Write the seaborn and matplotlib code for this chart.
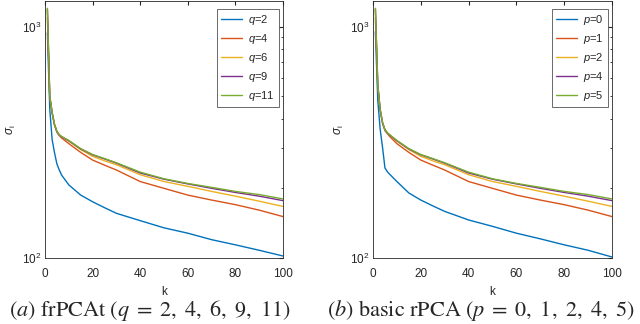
import matplotlib
matplotlib.use("Agg")
import matplotlib.pyplot as plt
import pandas as pd
import seaborn as sns

# Sampled component index k
k_vals = [1, 2, 3, 4, 5, 6, 7, 10, 15, 20, 25, 30, 40, 50, 60, 70, 80, 90, 100]

# (a) frPCAt, singular values per q
frpcat_q2 = [940, 440, 325, 285, 255, 240, 228, 207, 187, 175, 165, 156, 145, 135, 128, 120, 114, 108, 102]
frpcat_q4 = [1090, 495, 422, 375, 350, 338, 330, 312, 286, 265, 252, 240, 214, 200, 187, 178, 170, 161, 151]
frpcat_q6 = [1190, 500, 425, 377, 352, 340, 334, 320, 294, 275, 263, 253, 229, 214, 204, 194, 185, 176, 167]
frpcat_q9 = [1190, 500, 425, 377, 352, 340, 334, 321, 296, 279, 268, 257, 233, 219, 209, 200, 192, 185, 177]
frpcat_q11 = [1200, 500, 425, 378, 353, 341, 335, 322, 297, 280, 269, 258, 235, 220, 210, 202, 194, 188, 180]

# (b) basic rPCA, singular values per p
rpca_p0 = [950, 480, 360, 300, 245, 236, 230, 214, 191, 178, 168, 159, 146, 137, 128, 121, 114, 108, 101]
rpca_p1 = [1090, 555, 435, 382, 355, 345, 335, 312, 286, 265, 252, 240, 214, 200, 187, 178, 170, 161, 151]
rpca_p2 = [1190, 560, 437, 384, 358, 347, 340, 320, 294, 275, 263, 253, 229, 214, 204, 194, 185, 176, 167]
rpca_p4 = [1190, 560, 437, 384, 358, 347, 340, 321, 296, 279, 268, 257, 233, 219, 209, 200, 192, 185, 177]
rpca_p5 = [1200, 560, 437, 385, 359, 348, 341, 322, 297, 280, 269, 258, 235, 220, 210, 202, 194, 188, 180]

frpcat_labels = ["2", "4", "6", "9", "11"]
rpca_labels = ["0", "1", "2", "4", "5"]

colors = ["#0072BD", "#D95319", "#EDB120", "#7E2F8E", "#77AC30"]


def draw_panel(ax, series, labels, var):
    """Draw one log-scale singular value panel"""
    for values, lab, color in zip(series, labels, colors):
        df = pd.DataFrame({"k": k_vals, "sigma": values})
        sns.lineplot(data=df, x="k", y="sigma", ax=ax, color=color,
                     linewidth=1.0, label=f"${var}$=" + lab)
    ax.set_yscale("log")
    ax.set_xlim(0, 100)
    ax.set_ylim(100, 1290)
    ax.set_xticks([0, 20, 40, 60, 80, 100])
    ax.tick_params(which="both", direction="in", top=True, right=True,
                   labelsize=8.5, colors="#262626")
    ax.tick_params(which="major", length=3)
    ax.tick_params(which="minor", length=1.8)
    ax.tick_params(axis="x", pad=7)
    ax.tick_params(axis="y", pad=2.5)
    ax.set_xlabel("k", fontsize=8.5, labelpad=4.5)
    ax.set_ylabel(r"$\sigma_{\mathrm{i}}$", fontsize=8.5, labelpad=3)
    for s in ax.spines.values():
        s.set_color("#262626")
        s.set_linewidth(0.6)
    leg = ax.legend(loc="upper right", bbox_to_anchor=(1 - 4 / 238, 1 - 8 / 257),
                    borderaxespad=0, fontsize=8, frameon=True, fancybox=False,
                    handlelength=1.9, handletextpad=0.6, borderpad=0.35,
                    labelspacing=0.45)
    leg.get_frame().set_edgecolor("#262626")
    leg.get_frame().set_linewidth(0.6)


def main() -> None:
    sns.set_style("white")
    plt.rcParams["font.family"] = ["Liberation Sans", "DejaVu Sans"]
    plt.rcParams["mathtext.fontset"] = "custom"
    plt.rcParams["mathtext.it"] = "Liberation Sans:italic"
    plt.rcParams["mathtext.rm"] = "Liberation Sans"

    fig = plt.figure(figsize=(6.4, 3.24), dpi=100)
    ax_a = fig.add_axes([45 / 640, 66 / 324, 238 / 640, 257 / 324])
    ax_b = fig.add_axes([373 / 640, 66 / 324, 239 / 640, 257 / 324])

    draw_panel(ax_a, [frpcat_q2, frpcat_q4, frpcat_q6, frpcat_q9, frpcat_q11],
               frpcat_labels, "q")
    draw_panel(ax_b, [rpca_p0, rpca_p1, rpca_p2, rpca_p4, rpca_p5],
               rpca_labels, "p")

    fig.text(150 / 640, 1 / 324,
             r"$(a)\ \mathrm{frPCAt}\ (q\;=\;2,\ 4,\ 6,\ 9,\ 11)$",
             ha="center", va="bottom", fontsize=16, math_fontfamily="stix")
    fig.text(481 / 640, 1 / 324,
             r"$(b)\ \mathrm{basic\ rPCA}\ (p\;=\;0,\ 1,\ 2,\ 4,\ 5)$",
             ha="center", va="bottom", fontsize=16, math_fontfamily="stix")

    fig.savefig("out.png", dpi=100)
    plt.close(fig)


if __name__ == "__main__":
    main()
